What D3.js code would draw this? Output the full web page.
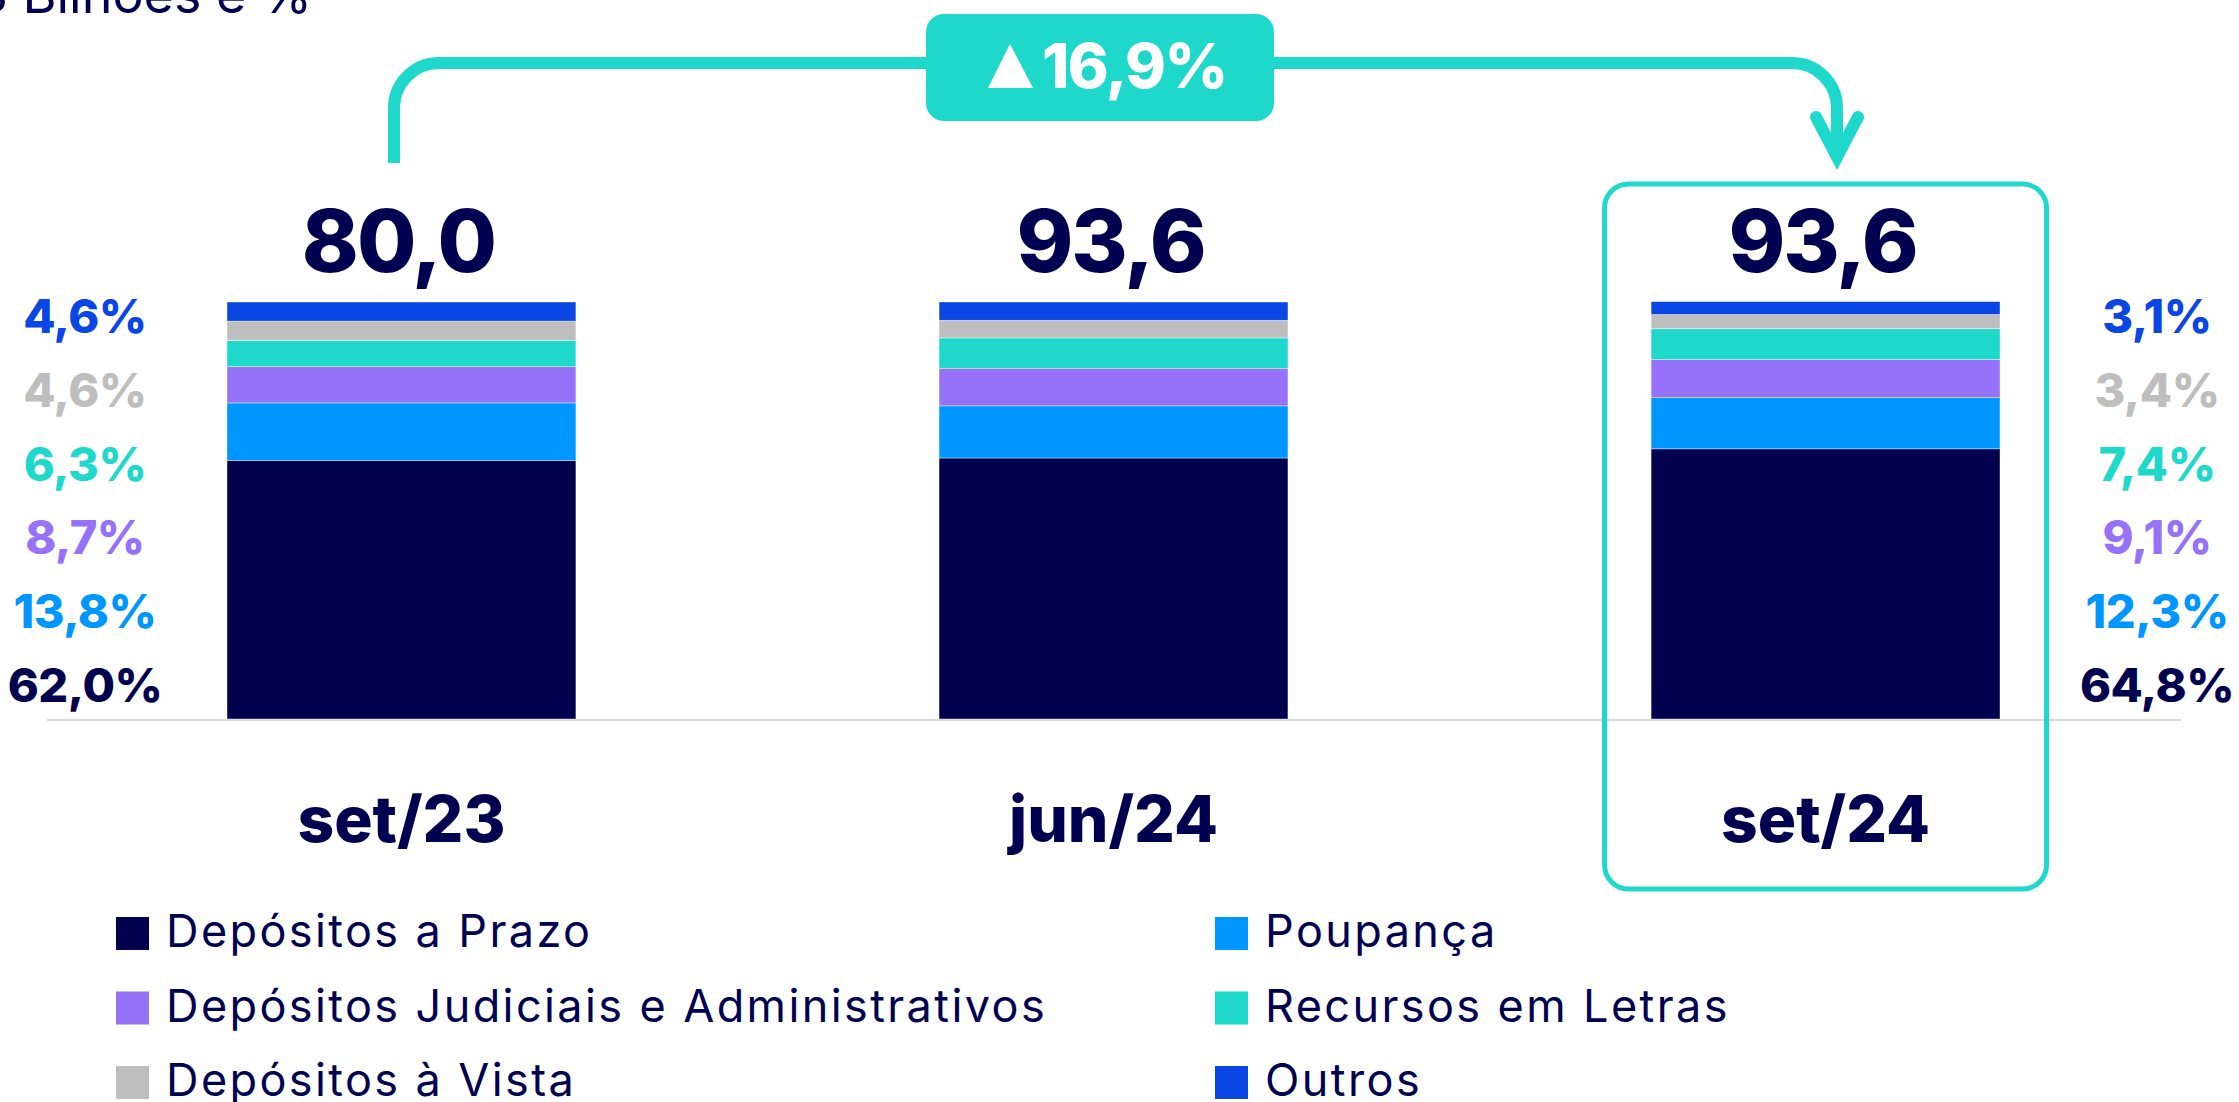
<!DOCTYPE html>
<html>
<head>
<meta charset="utf-8">
<script src="https://cdnjs.cloudflare.com/ajax/libs/d3/7.8.5/d3.min.js"></script>
<style>
    body { margin: 0; background: #fff; }
    text { font-family: Inter, "Open Sans", sans-serif; }
</style>
</head>
<body>
<div id="chart"></div>
<script>
// data
var categories = ["set/23", "jun/24", "set/24"];
var totals = [80.0, 93.6, 93.6];
var seriesKeys = ["prazo", "poupanca", "judiciais", "letras", "vista", "outros"];
var seriesNames = ["Depósitos a Prazo", "Poupança", "Depósitos Judiciais e Administrativos",
    "Recursos em Letras", "Depósitos à Vista", "Outros"];
var seriesColors = ["#00004e", "#0096ff", "#9672f8", "#1ed9cb", "#bebebe", "#0a46e3"];
var prazo = [62.0, 62.6, 64.8];
var poupanca = [13.8, 12.5, 12.3];
var judiciais = [8.7, 9.0, 9.1];
var letras = [6.3, 7.3, 7.4];
var vista = [4.6, 4.2, 3.4];
var outros = [4.6, 4.4, 3.1];
var growth = 16.9;
var unitLabel = "R$ Bilhões e %";

// parameters
var svgWidth = 2239;
var svgHeight = 1102;
var navy = "#000050";
var teal = "#1ed9cb";

var locale = d3.formatLocale({ decimal: ",", thousands: ".", grouping: [3], currency: ["R$", ""] });
var fmt = locale.format(".1f");

var values = { prazo: prazo, poupanca: poupanca, judiciais: judiciais, letras: letras, vista: vista, outros: outros };
var rows = categories.map(function (c, i) {
    var row = { category: c };
    seriesKeys.forEach(function (k) { row[k] = values[k][i]; });
    return row;
});
var color = d3.scaleOrdinal().domain(seriesKeys).range(seriesColors);

var svg = d3.select("#chart")
    .append("svg")
    .attr("width", svgWidth)
    .attr("height", svgHeight);

var xScale = d3.scaleBand()
    .domain(categories)
    .range([227, 2000])
    .paddingInner(0.51)
    .paddingOuter(0);

var yScale = d3.scaleLinear()
    .domain([0, 100])
    .range([719, 302]);

// unit title (cut at top like the source slide)
svg.append("text")
    .attr("x", 312)
    .attr("y", 13)
    .attr("text-anchor", "end")
    .attr("font-size", 52)
    .attr("fill", navy)
    .text(unitLabel);

// baseline
svg.append("line")
    .attr("x1", 47).attr("x2", 2181)
    .attr("y1", 720).attr("y2", 720)
    .attr("stroke", "#d9d9d9")
    .attr("stroke-width", 2);

// highlight box on last category
var last = categories[categories.length - 1];
var boxCx = xScale(last) + xScale.bandwidth() / 2;
svg.append("rect")
    .attr("x", boxCx - 221)
    .attr("y", 184)
    .attr("width", 442)
    .attr("height", 705)
    .attr("rx", 24)
    .attr("fill", "none")
    .attr("stroke", teal)
    .attr("stroke-width", 5);

// stacked bars
var stacked = d3.stack().keys(seriesKeys)(rows);

svg.append("g")
    .selectAll("g")
    .data(stacked)
    .enter()
    .append("g")
    .attr("fill", d => color(d.key))
    .selectAll("rect")
    .data(d => d)
    .enter()
    .append("rect")
    .attr("x", d => xScale(d.data.category))
    .attr("y", d => yScale(d[1]))
    .attr("height", d => yScale(d[0]) - yScale(d[1]))
    .attr("width", xScale.bandwidth())
    .attr("stroke", "#ffffff")
    .attr("stroke-opacity", 0.5)
    .attr("stroke-width", 0.8);

// totals above bars
svg.append("g")
    .selectAll("text")
    .data(categories)
    .enter()
    .append("text")
    .attr("x", d => xScale(d) + xScale.bandwidth() / 2 - 3)
    .attr("y", 272)
    .attr("text-anchor", "middle")
    .attr("font-size", 86)
    .attr("font-weight", 800)
    .attr("letter-spacing", -2)
    .attr("fill", navy)
    .text((d, i) => fmt(totals[i]));

// category labels
svg.append("g")
    .selectAll("text")
    .data(categories)
    .enter()
    .append("text")
    .attr("x", d => xScale(d) + xScale.bandwidth() / 2)
    .attr("y", 842)
    .attr("text-anchor", "middle")
    .attr("font-size", 64)
    .attr("font-weight", 800)
    .attr("fill", navy)
    .text(d => d);

// share labels beside first and last bars
var labelRow = d3.scalePoint().domain(seriesKeys).range([702, 333]);
var sides = [{ idx: 0, x: 85 }, { idx: categories.length - 1, x: 2157 }];
sides.forEach(function (s) {
    svg.append("g")
        .selectAll("text")
        .data(seriesKeys)
        .enter()
        .append("text")
        .attr("x", s.x)
        .attr("y", d => labelRow(d))
        .attr("text-anchor", "middle")
        .attr("font-size", 47)
        .attr("font-weight", 800)
        .attr("letter-spacing", -0.5)
        .attr("fill", d => color(d))
        .text(d => fmt(values[d][s.idx]) + "%");
});

// growth connector
var x0 = 394, x1 = 1837, yLine = 63, r = 45;
var path = d3.path();
path.moveTo(x0, 163);
path.lineTo(x0, yLine + r);
path.arcTo(x0, yLine, x0 + r, yLine, r);
path.lineTo(x1 - r, yLine);
path.arcTo(x1, yLine, x1, yLine + r, r);
path.lineTo(x1, 152);
svg.append("path")
    .attr("d", path.toString())
    .attr("fill", "none")
    .attr("stroke", teal)
    .attr("stroke-width", 12);

svg.append("path")
    .attr("d", d3.line()([[x1 - 21, 117], [x1, 157], [x1 + 21, 117]]))
    .attr("fill", "none")
    .attr("stroke", teal)
    .attr("stroke-width", 12)
    .attr("stroke-linecap", "round")
    .attr("stroke-linejoin", "miter");

// growth badge
var badge = svg.append("g").attr("transform", "translate(1100, 67)");
badge.append("rect")
    .attr("x", -174).attr("y", -53)
    .attr("width", 348).attr("height", 107)
    .attr("rx", 18)
    .attr("fill", teal);
badge.append("path")
    .attr("d", d3.line()([[-112, 21], [-90, -23], [-67, 21]]) + "Z")
    .attr("fill", "#ffffff");
badge.append("text")
    .attr("x", -58)
    .attr("y", 21)
    .attr("font-size", 62)
    .attr("font-weight", 800)
    .attr("letter-spacing", -1.5)
    .attr("fill", "#ffffff")
    .text(fmt(growth) + "%");

// legend
var legend = svg.append("g")
    .selectAll("g")
    .data(seriesKeys)
    .enter()
    .append("g")
    .attr("transform", (d, i) => `translate(${i % 2 === 0 ? 116 : 1215}, ${947 + Math.floor(i / 2) * 74.5})`);

legend.append("rect")
    .attr("x", 0).attr("y", -30)
    .attr("width", 33).attr("height", 33)
    .attr("fill", d => color(d));

legend.append("text")
    .attr("x", 50)
    .attr("y", 0)
    .attr("font-size", 45)
    .attr("letter-spacing", 2.4)
    .attr("fill", navy)
    .text((d, i) => seriesNames[i]);
</script>
</body>
</html>
